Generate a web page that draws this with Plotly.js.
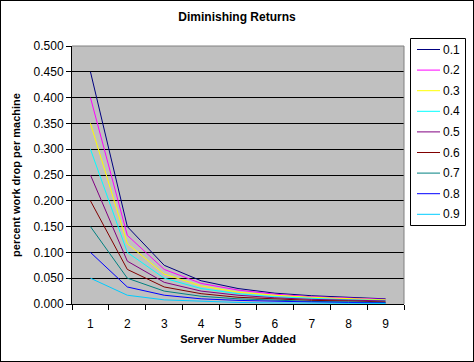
<!DOCTYPE html>
<html>
<head>
<meta charset="utf-8">
<script src="https://cdn.plot.ly/plotly-3.0.1.min.js"></script>
<style>
html,body{margin:0;padding:0;background:#fff;}
#chart{width:472px;height:360px;border:1px solid #000;}
</style>
</head>
<body>
<div id="chart"></div>
<script>
// Server number (x categories)
var servers = [1, 2, 3, 4, 5, 6, 7, 8, 9];
// Series names
var seriesNames = ["0.1", "0.2", "0.3", "0.4", "0.5", "0.6", "0.7", "0.8", "0.9"];
// Values (percent work drop per machine)
var s01 = [0.450, 0.150, 0.075, 0.045, 0.030, 0.021, 0.016, 0.013, 0.010];
var s02 = [0.400, 0.133, 0.067, 0.040, 0.027, 0.019, 0.014, 0.011, 0.009];
var s03 = [0.350, 0.117, 0.058, 0.035, 0.023, 0.017, 0.013, 0.010, 0.008];
var s04 = [0.300, 0.100, 0.050, 0.030, 0.020, 0.014, 0.011, 0.008, 0.007];
var s05 = [0.250, 0.083, 0.042, 0.025, 0.017, 0.012, 0.009, 0.007, 0.006];
var s06 = [0.200, 0.067, 0.033, 0.020, 0.013, 0.010, 0.007, 0.006, 0.004];
var s07 = [0.150, 0.050, 0.025, 0.015, 0.010, 0.007, 0.005, 0.004, 0.003];
var s08 = [0.100, 0.033, 0.017, 0.010, 0.007, 0.005, 0.004, 0.003, 0.002];
var s09 = [0.050, 0.017, 0.008, 0.005, 0.003, 0.002, 0.002, 0.001, 0.001];
var seriesValues = [s01, s02, s03, s04, s05, s06, s07, s08, s09];
var colors = ["#000080", "#FF00FF", "#FFFF00", "#00FFFF", "#800080", "#800000", "#008080", "#0000FF", "#00CCFF"];

var FONT = "Arial, 'Liberation Sans', sans-serif";

var traces = seriesValues.map(function (vals, i) {
  return {
    type: "scatter",
    mode: "lines",
    x: servers,
    y: vals,
    name: seriesNames[i],
    line: {color: colors[i], width: 1},
    hoverinfo: "x+y+name",
    showlegend: false
  };
});

// Plot area geometry (px) used to convert legend layout into paper coordinates
var W = 472, H = 360, M = {l: 71, r: 69, t: 45, b: 57};
var pw = W - M.l - M.r, ph = H - M.t - M.b;
function px2x(px) { return (px - 1 - M.l) / pw; }      // page px -> paper x
function py2y(py) { return (H - M.b + 1 - py) / ph; }  // page py -> paper y

// Legend drawn as shapes + text annotations
var shapes = [
  {type: "line", xref: "paper", yref: "paper", x0: 0, x1: 1, y0: 1, y1: 1, line: {color: "#808080", width: 1}, layer: "above"},
  {type: "line", xref: "paper", yref: "paper", x0: 1, x1: 1, y0: 0, y1: 1, line: {color: "#808080", width: 1}, layer: "above"},
  {type: "rect", xref: "paper", yref: "paper", x0: px2x(410.5), x1: px2x(465.5), y0: py2y(225.5), y1: py2y(38.5),
   line: {color: "#000", width: 1}, fillcolor: "#FFFFFF", layer: "above"}
];
var annotations = [];
seriesNames.forEach(function (name, i) {
  var cy = 49.5 + 20.6 * i;
  shapes.push({type: "line", xref: "paper", yref: "paper", x0: px2x(417), x1: px2x(440), y0: py2y(cy), y1: py2y(cy),
    line: {color: colors[i], width: 1}, layer: "above"});
  annotations.push({xref: "paper", yref: "paper", x: px2x(442), y: py2y(cy), xanchor: "left", yanchor: "middle",
    text: name, showarrow: false, font: {family: FONT, size: 12, color: "#000"}, borderpad: 0});
});

var layout = {
  width: W,
  height: H,
  margin: {l: M.l, r: M.r, t: M.t, b: M.b, pad: 0, autoexpand: false},
  paper_bgcolor: "#FFFFFF",
  plot_bgcolor: "#C0C0C0",
  font: {family: FONT, size: 12, color: "#000"},
  title: {
    text: "<b>Diminishing Returns</b>",
    font: {family: FONT, size: 12, color: "#000"},
    x: 0.5, xanchor: "center",
    xref: "container",
    y: 0.955, yanchor: "middle", yref: "container"
  },
  showlegend: false,
  xaxis: {
    range: [0.5, 9.5],
    tickvals: servers,
    ticktext: servers.map(String),
    ticks: "",
    showgrid: false,
    zeroline: false,
    showline: true,
    linecolor: "#000",
    linewidth: 1,
    ticklabelstandoff: 9,
    tickfont: {family: FONT, size: 12, color: "#000"},
    minor: {tick0: 0.5, dtick: 1, ticks: "outside", ticklen: 5, tickcolor: "#000", tickwidth: 1, showgrid: false},
    title: {text: "<b>Server Number Added</b>", font: {family: FONT, size: 11, color: "#000"}, standoff: 4},
    fixedrange: true
  },
  yaxis: {
    range: [0, 0.5],
    dtick: 0.05,
    tick0: 0,
    tickformat: ".3f",
    ticks: "outside",
    ticklen: 5,
    tickcolor: "#000",
    showgrid: true,
    gridcolor: "#000",
    gridwidth: 1,
    zeroline: false,
    showline: true,
    linecolor: "#000",
    linewidth: 1,
    tickfont: {family: FONT, size: 12, color: "#000"},
    title: {text: "<b>percent work drop per machine</b>", font: {family: FONT, size: 11, color: "#000"}, standoff: 10},
    fixedrange: true
  },
  shapes: shapes,
  annotations: annotations
};

Plotly.newPlot("chart", traces, layout, {displayModeBar: false, staticPlot: true});
</script>
</body>
</html>
